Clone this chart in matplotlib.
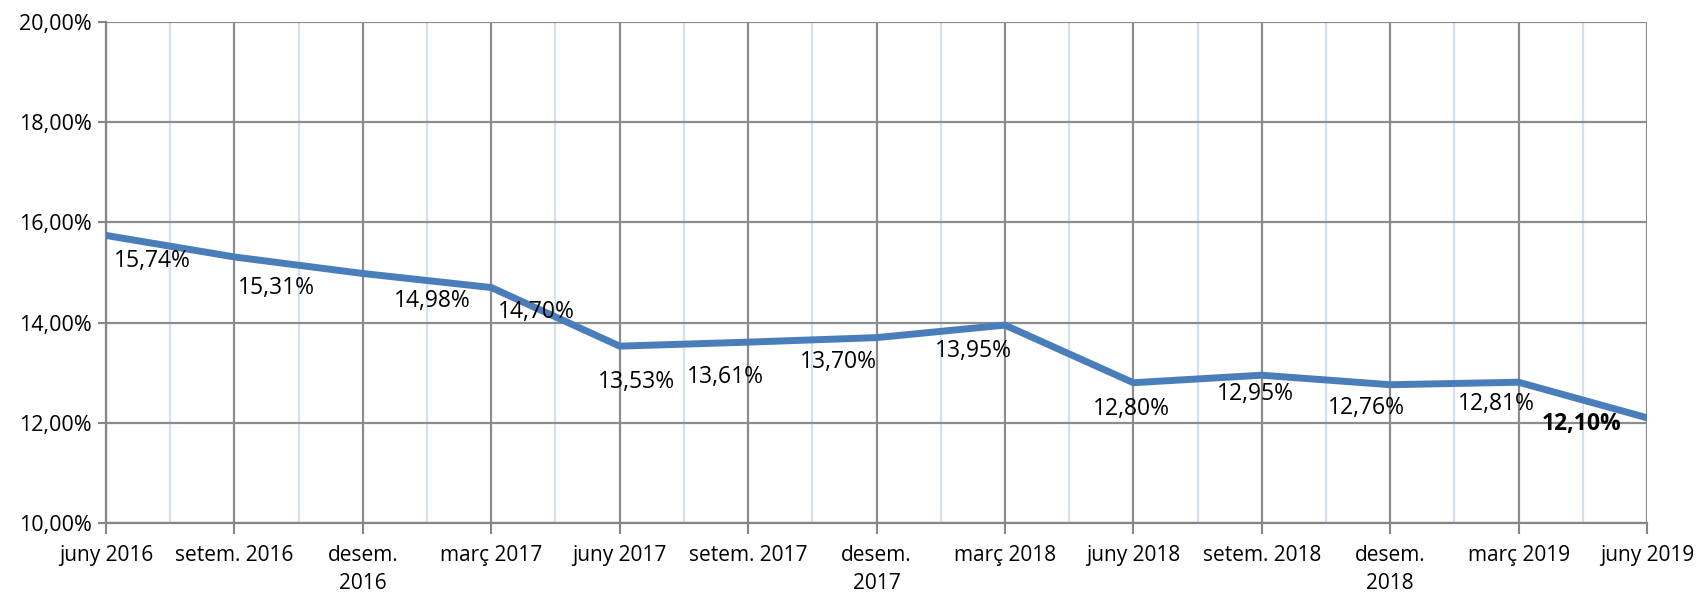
import matplotlib
matplotlib.use("Agg")
import matplotlib.pyplot as plt
from matplotlib.ticker import FixedLocator, FuncFormatter

periods = [
    "juny 2016", "setem. 2016", "desem.\n2016", "març 2017", "juny 2017",
    "setem. 2017", "desem.\n2017", "març 2018", "juny 2018", "setem. 2018",
    "desem.\n2018", "març 2019", "juny 2019",
]
values = [15.74, 15.31, 14.98, 14.70, 13.53, 13.61, 13.70, 13.95,
          12.80, 12.95, 12.76, 12.81, 12.10]

# label offsets in pixels (dx, dy) relative to the point
label_offsets = [
    (46, -26), (42, -31), (69, -27), (45, -24), (17, -36), (-23, -35),
    (-38, -24), (-31, -26), (-2, -26), (-6, -19), (-24, -23), (-22, -22),
    (-65, -6),
]

plt.rcParams["font.family"] = ["Open Sans", "DejaVu Sans"]

fig = plt.figure(figsize=(17.02, 5.96), dpi=100)
ax = fig.add_axes([106 / 1702, 1 - 523 / 596, 1541 / 1702, 501 / 596])

x = list(range(len(values)))
ax.plot(x, values, color="#4a7ebb", linewidth=5, zorder=3,
        solid_joinstyle="miter")

for i, (v, (dx, dy)) in enumerate(zip(values, label_offsets)):
    txt = f"{v:.2f}%".replace(".", ",")
    bold = i == len(values) - 1
    ax.annotate(txt, (i, v), xytext=(dx, dy), textcoords="offset pixels",
                ha="center", va="center", fontsize=16.5,
                fontweight="bold" if bold else "normal", color="black",
                zorder=4)

ax.set_xlim(0, len(values) - 1)
ax.set_ylim(10, 20)
ax.set_xticks(x)
ax.set_xticklabels(periods, fontsize=15, linespacing=1.4)
ax.xaxis.set_minor_locator(FixedLocator([i + 0.5 for i in range(len(values) - 1)]))
ax.set_yticks([10, 12, 14, 16, 18, 20])
ax.yaxis.set_major_formatter(FuncFormatter(lambda v, _: f"{v:.2f}%".replace(".", ",")))
ax.tick_params(axis="y", labelsize=15.5, length=6, width=1.5, color="#868686", pad=4)
ax.tick_params(axis="x", which="major", length=8, width=1.5, color="#868686", pad=8)
ax.tick_params(axis="x", which="minor", length=0)

ax.grid(True, which="major", axis="both", color="#8c8c8c", linewidth=1.6, zorder=1)
ax.grid(True, which="minor", axis="x", color="#d6e0f3", linewidth=1.6, zorder=0)
ax.set_axisbelow(True)

for side in ["top", "right"]:
    ax.spines[side].set_visible(False)
for side in ["left", "bottom"]:
    ax.spines[side].set_color("#868686")
    ax.spines[side].set_linewidth(1.6)

fig.savefig("out.png", dpi=100, facecolor="white")
